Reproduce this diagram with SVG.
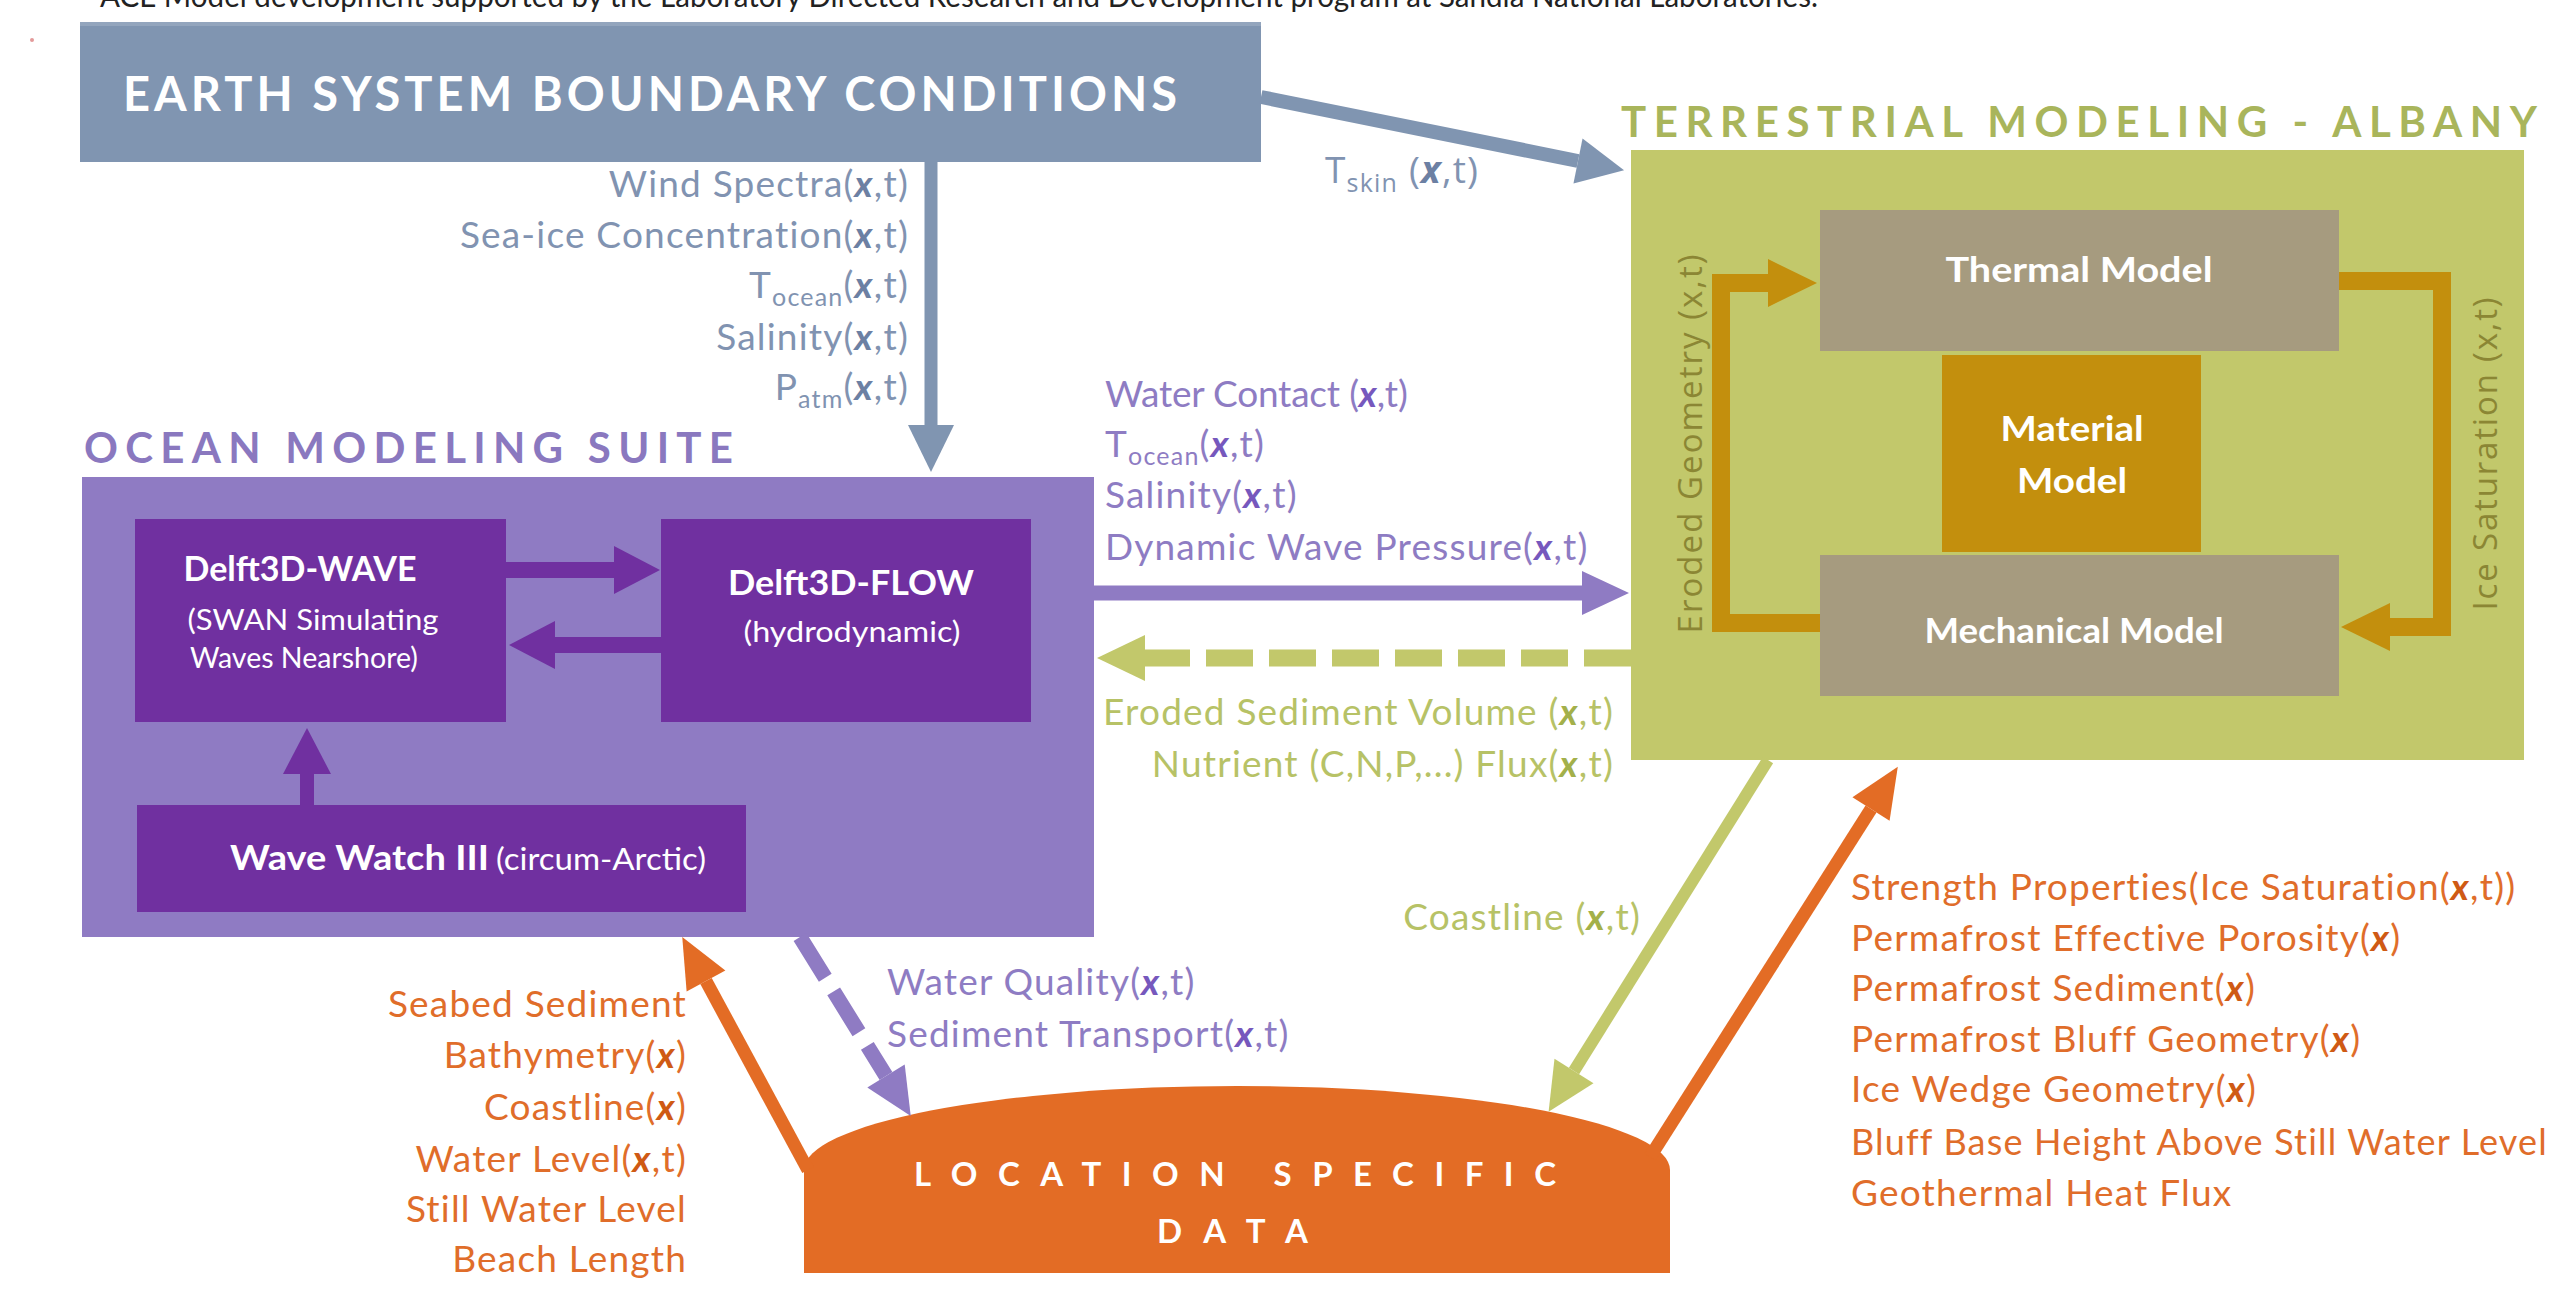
<svg xmlns="http://www.w3.org/2000/svg" width="2574" height="1297" viewBox="0 0 2574 1297">
<style>
text{font-family:Lato,"Liberation Sans",sans-serif}
.lbl{font-family:"Open Sans","Noto Sans",sans-serif;font-size:37px;letter-spacing:1.2px}
.sub{font-size:25px}
.bx{font-weight:bold;font-style:italic}
.slate{fill:#8193b1}.slate .bx{fill:#6c80a3}
.pur{fill:#8e7cc3}.pur .bx{fill:#7658bd}
.grn{fill:#b7c266}.grn .bx{fill:#a3b04a}
.org{fill:#e06d2a}.org .bx{fill:#cf5a14}
.title{font-weight:bold}
.box-t{fill:#fff;font-weight:bold;text-anchor:middle}
.box-s{fill:#fff;text-anchor:middle}
.vert{font-family:"Open Sans","DejaVu Sans",sans-serif;font-size:33px;fill:#8b8634;text-anchor:middle}
</style>
<defs>
<marker id="hSlate" markerUnits="userSpaceOnUse" orient="auto" overflow="visible" refX="0" refY="0" markerWidth="1" markerHeight="1"><path d="M0,-23 L47,0 L0,23 Z" fill="#8095b1"/></marker>
<marker id="hDark" markerUnits="userSpaceOnUse" orient="auto" overflow="visible" refX="0" refY="0" markerWidth="1" markerHeight="1"><path d="M0,-24 L46,0 L0,24 Z" fill="#7030a0"/></marker>
<marker id="hPur" markerUnits="userSpaceOnUse" orient="auto" overflow="visible" refX="0" refY="0" markerWidth="1" markerHeight="1"><path d="M0,-22 L47,0 L0,22 Z" fill="#8f7bc3"/></marker>
<marker id="hGrn" markerUnits="userSpaceOnUse" orient="auto" overflow="visible" refX="0" refY="0" markerWidth="1" markerHeight="1"><path d="M0,-23 L48,0 L0,23 Z" fill="#c2c86b"/></marker>
<marker id="hOrg" markerUnits="userSpaceOnUse" orient="auto" overflow="visible" refX="0" refY="0" markerWidth="1" markerHeight="1"><path d="M0,-22 L50,0 L0,22 Z" fill="#e36c25"/></marker>
<marker id="hGold" markerUnits="userSpaceOnUse" orient="auto" overflow="visible" refX="0" refY="0" markerWidth="1" markerHeight="1"><path d="M0,-24 L49,0 L0,24 Z" fill="#c38f0d"/></marker>
</defs>
<rect width="2574" height="1297" fill="#ffffff"/>

<text x="100" y="7" font-size="30" fill="#222" textLength="1718" lengthAdjust="spacingAndGlyphs">ACE Model development supported by the Laboratory Directed Research and Development program at Sandia National Laboratories.</text>
<circle cx="32" cy="40" r="2" fill="#e39a9a"/>

<g id="earth">
<rect x="80" y="22" width="1181" height="140" fill="#8095b1"/>
<rect x="80" y="22" width="1181" height="4" fill="#93a5bd"/>
<text class="title" x="123" y="111" font-size="47" fill="#fff" textLength="1054" lengthAdjust="spacing">EARTH SYSTEM BOUNDARY CONDITIONS</text>
</g>

<g id="ocean">
<text class="title" x="84" y="463" font-size="42" fill="#8a78bf" textLength="649" lengthAdjust="spacing">OCEAN MODELING SUITE</text>
<rect x="82" y="477" width="1012" height="460" fill="#8f7bc3"/>
</g>
<g id="wave">
<rect x="135" y="519" width="371" height="203" fill="#7030a0"/>
<text class="box-t" x="300" y="581" font-size="34" textLength="233" lengthAdjust="spacingAndGlyphs">Delft3D-WAVE</text>
<text class="box-s" x="313" y="630" font-size="29" textLength="251" lengthAdjust="spacingAndGlyphs">(SWAN Simulating</text>
<text class="box-s" x="304" y="668" font-size="29" textLength="228" lengthAdjust="spacingAndGlyphs">Waves Nearshore)</text>
</g>
<g id="flow">
<rect x="661" y="519" width="370" height="203" fill="#7030a0"/>
<text class="box-t" x="851" y="595" font-size="34" textLength="246" lengthAdjust="spacingAndGlyphs">Delft3D-FLOW</text>
<text class="box-s" x="852" y="642" font-size="29" textLength="217" lengthAdjust="spacingAndGlyphs">(hydrodynamic)</text>
</g>
<g id="ww3">
<rect x="137" y="805" width="609" height="107" fill="#7030a0"/>
<text x="230" y="870" fill="#fff" font-size="34" font-weight="bold" textLength="259" lengthAdjust="spacingAndGlyphs">Wave Watch III</text>
<text x="496" y="870" fill="#fff" font-size="30" textLength="210" lengthAdjust="spacingAndGlyphs">(circum-Arctic)</text>
</g>

<g id="terrestrial">
<text class="title" x="1621" y="137" font-size="42" fill="#a9b55b" textLength="916" lengthAdjust="spacing">TERRESTRIAL MODELING - ALBANY</text>
<rect x="1631" y="150" width="893" height="610" fill="#c2c86b"/>
</g>
<g id="thermal">
<rect x="1820" y="210" width="519" height="141" fill="#a69b7f"/>
<text class="box-t" x="2079" y="282" font-size="35" textLength="267" lengthAdjust="spacingAndGlyphs">Thermal Model</text>
</g>
<g id="material">
<rect x="1942" y="355" width="259" height="197" fill="#c38f0d"/>
<text class="box-t" x="2072" y="441" font-size="35" textLength="143" lengthAdjust="spacingAndGlyphs">Material</text>
<text class="box-t" x="2072" y="493" font-size="35" textLength="110" lengthAdjust="spacingAndGlyphs">Model</text>
</g>
<g id="mechanical">
<rect x="1820" y="555" width="519" height="141" fill="#a69b7f"/>
<text class="box-t" x="2074" y="643" font-size="35" textLength="299" lengthAdjust="spacingAndGlyphs">Mechanical Model</text>
</g>

<g id="location">
<path d="M804,1273 V1170 A433,84 0 0 1 1670,1170 V1273 Z" fill="#e36c25"/>
<text class="title" x="914" y="1186" font-size="33" fill="#fff" textLength="642" lengthAdjust="spacing">LOCATION SPECIFIC</text>
<text class="title" x="1157" y="1243" font-size="33" fill="#fff" textLength="151" lengthAdjust="spacing">DATA</text>
</g>

<g id="connectors" fill="none" stroke-linejoin="miter">
<line x1="931" y1="162" x2="931" y2="425" stroke="#8095b1" stroke-width="13" marker-end="url(#hSlate)"/>
<line x1="1261" y1="97" x2="1578" y2="161" stroke="#8095b1" stroke-width="14" marker-end="url(#hSlate)"/>
<line x1="506" y1="570" x2="614" y2="570" stroke="#7030a0" stroke-width="16" marker-end="url(#hDark)"/>
<line x1="661" y1="645" x2="555" y2="645" stroke="#7030a0" stroke-width="16" marker-end="url(#hDark)"/>
<line x1="307" y1="805" x2="307" y2="774" stroke="#7030a0" stroke-width="14" marker-end="url(#hDark)"/>
<line x1="1094" y1="593" x2="1582" y2="593" stroke="#8f7bc3" stroke-width="15" marker-end="url(#hPur)"/>
<line x1="1631" y1="658" x2="1145" y2="658" stroke="#c2c86b" stroke-width="17" stroke-dasharray="47 16" marker-end="url(#hGrn)"/>
<line x1="1768" y1="760" x2="1574" y2="1071" stroke="#c2c86b" stroke-width="12" marker-end="url(#hGrn)"/>
<line x1="1650" y1="1157" x2="1871" y2="809" stroke="#e36c25" stroke-width="13" marker-end="url(#hOrg)"/>
<line x1="808" y1="1170" x2="706" y2="981" stroke="#e36c25" stroke-width="13" marker-end="url(#hOrg)"/>
<line x1="800" y1="937" x2="886" y2="1076" stroke="#8f7bc3" stroke-width="15" stroke-dasharray="48 16" marker-end="url(#hPur)"/>
<polyline points="1820,623 1721,623 1721,283 1768,283" stroke="#c38f0d" stroke-width="18" marker-end="url(#hGold)"/>
<polyline points="2339,281 2442,281 2442,627 2390,627" stroke="#c38f0d" stroke-width="18" marker-end="url(#hGold)"/>
</g>

<g id="labels">
<g class="lbl slate" text-anchor="end">
<text x="909" y="197">Wind Spectra(<tspan class="bx">x</tspan>,t)</text>
<text x="909" y="248">Sea-ice Concentration(<tspan class="bx">x</tspan>,t)</text>
<text x="909" y="298">T<tspan class="sub" dy="8">ocean</tspan><tspan dy="-8">(</tspan><tspan class="bx">x</tspan>,t)</text>
<text x="909" y="350">Salinity(<tspan class="bx">x</tspan>,t)</text>
<text x="909" y="400">P<tspan class="sub" dy="8">atm</tspan><tspan dy="-8">(</tspan><tspan class="bx">x</tspan>,t)</text>
</g>
<text class="lbl slate" x="1325" y="183" font-size="37" letter-spacing="0">T<tspan class="sub" dy="9">skin</tspan><tspan dy="-9"> (</tspan><tspan class="bx">x</tspan>,t)</text>
<g class="lbl pur">
<text x="1105" y="407" textLength="304" lengthAdjust="spacing">Water Contact (<tspan class="bx">x</tspan>,t)</text>
<text x="1105" y="457">T<tspan class="sub" dy="8">ocean</tspan><tspan dy="-8">(</tspan><tspan class="bx">x</tspan>,t)</text>
<text x="1105" y="508">Salinity(<tspan class="bx">x</tspan>,t)</text>
<text x="1105" y="560">Dynamic Wave Pressure(<tspan class="bx">x</tspan>,t)</text>
<text x="887" y="995">Water Quality(<tspan class="bx">x</tspan>,t)</text>
<text x="887" y="1047">Sediment Transport(<tspan class="bx">x</tspan>,t)</text>
</g>
<g class="lbl grn" text-anchor="end">
<text x="1614" y="725">Eroded Sediment Volume (<tspan class="bx">x</tspan>,t)</text>
<text x="1614" y="777">Nutrient (C,N,P,...) Flux(<tspan class="bx">x</tspan>,t)</text>
<text x="1641" y="930">Coastline (<tspan class="bx">x</tspan>,t)</text>
</g>
<g class="lbl org" text-anchor="end">
<text x="687" y="1017">Seabed Sediment</text>
<text x="687" y="1068">Bathymetry(<tspan class="bx">x</tspan>)</text>
<text x="687" y="1120">Coastline(<tspan class="bx">x</tspan>)</text>
<text x="687" y="1172">Water Level(<tspan class="bx">x</tspan>,t)</text>
<text x="687" y="1222">Still Water Level</text>
<text x="687" y="1272">Beach Length</text>
</g>
<g class="lbl org">
<text x="1851" y="900">Strength Properties(Ice Saturation(<tspan class="bx">x</tspan>,t))</text>
<text x="1851" y="951">Permafrost Effective Porosity(<tspan class="bx">x</tspan>)</text>
<text x="1851" y="1001">Permafrost Sediment(<tspan class="bx">x</tspan>)</text>
<text x="1851" y="1052">Permafrost Bluff Geometry(<tspan class="bx">x</tspan>)</text>
<text x="1851" y="1102">Ice Wedge Geometry(<tspan class="bx">x</tspan>)</text>
<text x="1851" y="1155" textLength="697" lengthAdjust="spacingAndGlyphs">Bluff Base Height Above Still Water Level</text>
<text x="1851" y="1206">Geothermal Heat Flux</text>
</g>
<text class="vert" transform="translate(1702,444) rotate(-90)" textLength="379" lengthAdjust="spacing">Eroded Geometry (x,t)</text>
<text class="vert" transform="translate(2497,454) rotate(-90)" textLength="313" lengthAdjust="spacing">Ice Saturation (x,t)</text>
</g>
</svg>
